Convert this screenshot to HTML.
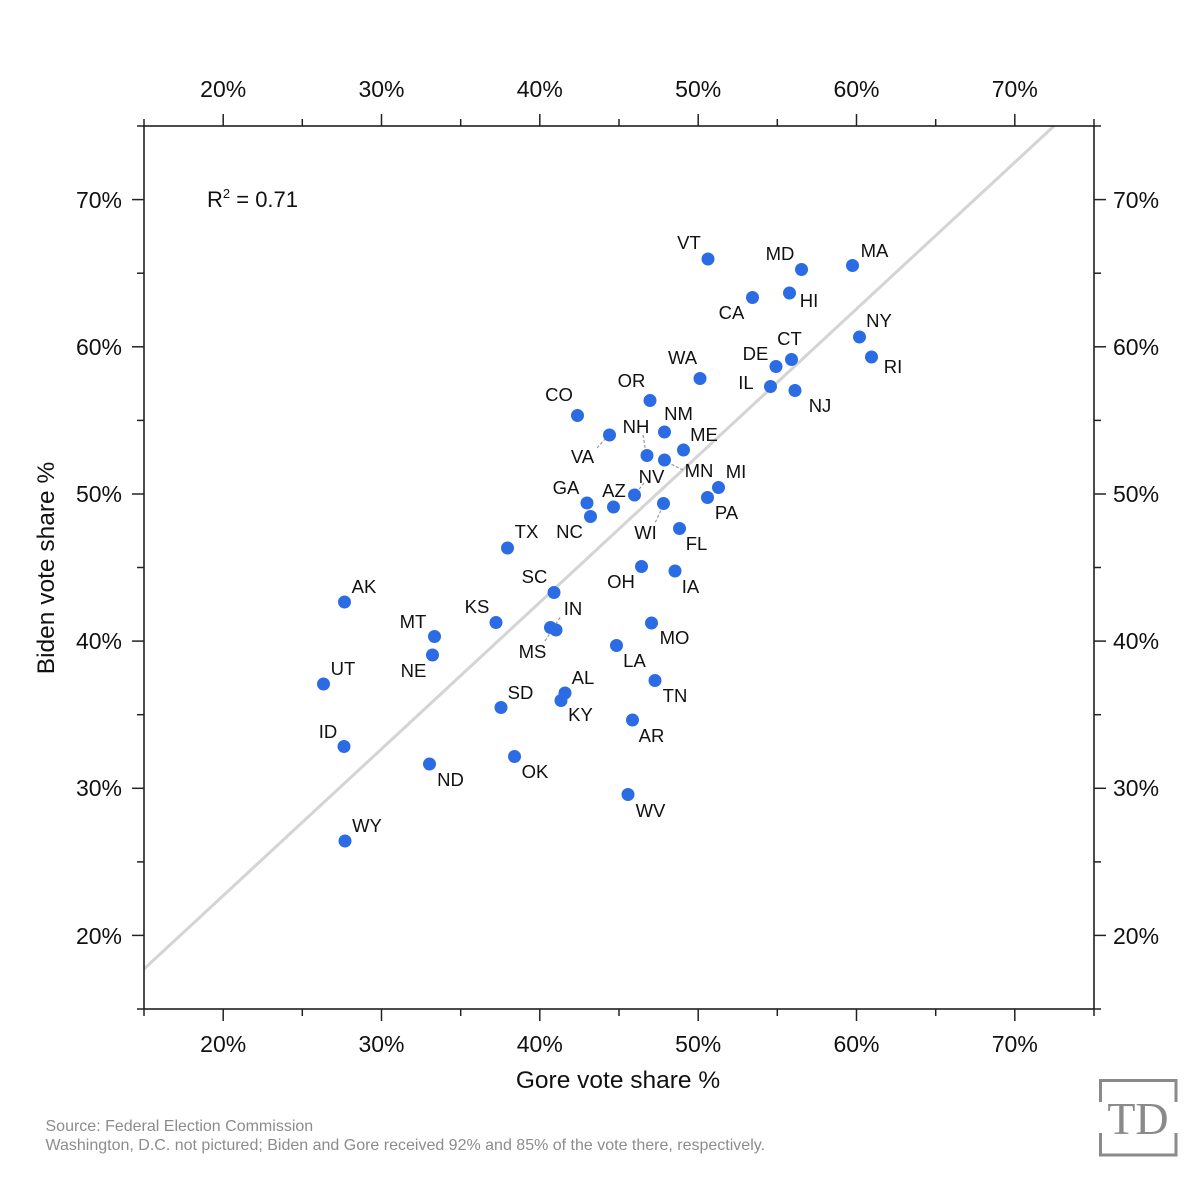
<!DOCTYPE html>
<html>
<head>
<meta charset="utf-8">
<style>
  html, body { margin:0; padding:0; background:#fff; }
  svg { display:block; }
  text { font-family: "Liberation Sans", sans-serif; }
  text.serif { font-family: "Liberation Serif", serif; }
</style>
</head>
<body>
<svg width="1200" height="1200" viewBox="0 0 1200 1200" xmlns="http://www.w3.org/2000/svg">
  <rect x="0" y="0" width="1200" height="1200" fill="#ffffff"/>

  <!-- regression line -->
  <line x1="144" y1="969" x2="1054" y2="126" stroke="#d4d4d4" stroke-width="3"/>

  <!-- frame -->
  <rect x="144" y="126" width="950" height="883" fill="none" stroke="#111" stroke-width="1.5"/>

  <!-- ticks -->
  <g stroke="#222" stroke-width="1.5">
    <line x1="223.2" y1="114" x2="223.2" y2="126"/><line x1="223.2" y1="1009" x2="223.2" y2="1021"/>
    <line x1="381.5" y1="114" x2="381.5" y2="126"/><line x1="381.5" y1="1009" x2="381.5" y2="1021"/>
    <line x1="539.8" y1="114" x2="539.8" y2="126"/><line x1="539.8" y1="1009" x2="539.8" y2="1021"/>
    <line x1="698.2" y1="114" x2="698.2" y2="126"/><line x1="698.2" y1="1009" x2="698.2" y2="1021"/>
    <line x1="856.5" y1="114" x2="856.5" y2="126"/><line x1="856.5" y1="1009" x2="856.5" y2="1021"/>
    <line x1="1014.8" y1="114" x2="1014.8" y2="126"/><line x1="1014.8" y1="1009" x2="1014.8" y2="1021"/>
    <line x1="144" y1="119" x2="144" y2="126"/><line x1="144" y1="1009" x2="144" y2="1016"/>
    <line x1="302.3" y1="119" x2="302.3" y2="126"/><line x1="302.3" y1="1009" x2="302.3" y2="1016"/>
    <line x1="460.7" y1="119" x2="460.7" y2="126"/><line x1="460.7" y1="1009" x2="460.7" y2="1016"/>
    <line x1="619" y1="119" x2="619" y2="126"/><line x1="619" y1="1009" x2="619" y2="1016"/>
    <line x1="777.3" y1="119" x2="777.3" y2="126"/><line x1="777.3" y1="1009" x2="777.3" y2="1016"/>
    <line x1="935.7" y1="119" x2="935.7" y2="126"/><line x1="935.7" y1="1009" x2="935.7" y2="1016"/>
    <line x1="1094" y1="119" x2="1094" y2="126"/><line x1="1094" y1="1009" x2="1094" y2="1016"/>
    <line x1="132" y1="199.6" x2="144" y2="199.6"/><line x1="1094" y1="199.6" x2="1106" y2="199.6"/>
    <line x1="132" y1="346.8" x2="144" y2="346.8"/><line x1="1094" y1="346.8" x2="1106" y2="346.8"/>
    <line x1="132" y1="494" x2="144" y2="494"/><line x1="1094" y1="494" x2="1106" y2="494"/>
    <line x1="132" y1="641.1" x2="144" y2="641.1"/><line x1="1094" y1="641.1" x2="1106" y2="641.1"/>
    <line x1="132" y1="788.3" x2="144" y2="788.3"/><line x1="1094" y1="788.3" x2="1106" y2="788.3"/>
    <line x1="132" y1="935.4" x2="144" y2="935.4"/><line x1="1094" y1="935.4" x2="1106" y2="935.4"/>
    <line x1="137" y1="126" x2="144" y2="126"/><line x1="1094" y1="126" x2="1101" y2="126"/>
    <line x1="137" y1="273.2" x2="144" y2="273.2"/><line x1="1094" y1="273.2" x2="1101" y2="273.2"/>
    <line x1="137" y1="420.4" x2="144" y2="420.4"/><line x1="1094" y1="420.4" x2="1101" y2="420.4"/>
    <line x1="137" y1="567.5" x2="144" y2="567.5"/><line x1="1094" y1="567.5" x2="1101" y2="567.5"/>
    <line x1="137" y1="714.7" x2="144" y2="714.7"/><line x1="1094" y1="714.7" x2="1101" y2="714.7"/>
    <line x1="137" y1="861.9" x2="144" y2="861.9"/><line x1="1094" y1="861.9" x2="1101" y2="861.9"/>
    <line x1="137" y1="1009" x2="144" y2="1009"/><line x1="1094" y1="1009" x2="1101" y2="1009"/>
  </g>

  <!-- tick labels -->
  <g font-size="23" fill="#111" text-anchor="middle">
    <text x="223.2" y="97">20%</text><text x="381.5" y="97">30%</text><text x="539.8" y="97">40%</text>
    <text x="698.2" y="97">50%</text><text x="856.5" y="97">60%</text><text x="1014.8" y="97">70%</text>
    <text x="223.2" y="1052">20%</text><text x="381.5" y="1052">30%</text><text x="539.8" y="1052">40%</text>
    <text x="698.2" y="1052">50%</text><text x="856.5" y="1052">60%</text><text x="1014.8" y="1052">70%</text>
  </g>
  <g font-size="23" fill="#111" text-anchor="end">
    <text x="122" y="208">70%</text><text x="122" y="355">60%</text><text x="122" y="502">50%</text>
    <text x="122" y="649">40%</text><text x="122" y="796">30%</text><text x="122" y="944">20%</text>
  </g>
  <g font-size="23" fill="#111" text-anchor="start">
    <text x="1113" y="208">70%</text><text x="1113" y="355">60%</text><text x="1113" y="502">50%</text>
    <text x="1113" y="649">40%</text><text x="1113" y="796">30%</text><text x="1113" y="944">20%</text>
  </g>

  <!-- axis titles -->
  <text x="618" y="1088" font-size="24.5" fill="#111" text-anchor="middle">Gore vote share %</text>
  <text transform="translate(54,568) rotate(-90)" font-size="24.5" fill="#111" text-anchor="middle">Biden vote share %</text>

  <!-- R2 -->
  <text x="207" y="207" font-size="22" fill="#111">R<tspan font-size="13" dy="-9">2</tspan><tspan dy="9"> = 0.71</tspan></text>

  <!-- leader lines -->
  <g stroke="#9a9a9a" stroke-width="1.2" stroke-dasharray="3,2" fill="none">
    <line x1="597" y1="448" x2="607" y2="437"/>
    <line x1="643" y1="435" x2="646" y2="453"/>
    <line x1="667" y1="462" x2="683" y2="470"/>
    <line x1="636" y1="493" x2="644" y2="483"/>
    <line x1="663" y1="506" x2="655" y2="523"/>
    <line x1="545" y1="641" x2="561" y2="616"/>
  </g>

  <!-- dots -->
  <g fill="#2b6be3">
    <circle cx="708" cy="259" r="6.5"/>
    <circle cx="801.5" cy="269.5" r="6.5"/>
    <circle cx="852.5" cy="265.5" r="6.5"/>
    <circle cx="752.5" cy="297.5" r="6.5"/>
    <circle cx="789.5" cy="293" r="6.5"/>
    <circle cx="859.5" cy="337" r="6.5"/>
    <circle cx="791.5" cy="359.5" r="6.5"/>
    <circle cx="776" cy="366.5" r="6.5"/>
    <circle cx="871.5" cy="357" r="6.5"/>
    <circle cx="700" cy="378.5" r="6.5"/>
    <circle cx="770.5" cy="386.5" r="6.5"/>
    <circle cx="795" cy="390.5" r="6.5"/>
    <circle cx="650" cy="400.5" r="6.5"/>
    <circle cx="577.5" cy="415.5" r="6.5"/>
    <circle cx="609.5" cy="435" r="6.5"/>
    <circle cx="664.5" cy="432" r="6.5"/>
    <circle cx="683.5" cy="450" r="6.5"/>
    <circle cx="647" cy="455.5" r="6.5"/>
    <circle cx="664.5" cy="460" r="6.5"/>
    <circle cx="718.5" cy="487.5" r="6.5"/>
    <circle cx="707.5" cy="497.5" r="6.5"/>
    <circle cx="634.5" cy="495" r="6.5"/>
    <circle cx="587" cy="503" r="6.5"/>
    <circle cx="613.5" cy="507" r="6.5"/>
    <circle cx="663.5" cy="503.5" r="6.5"/>
    <circle cx="590.5" cy="516.5" r="6.5"/>
    <circle cx="679.5" cy="528.5" r="6.5"/>
    <circle cx="507.5" cy="548" r="6.5"/>
    <circle cx="554" cy="592.5" r="6.5"/>
    <circle cx="641.5" cy="566.5" r="6.5"/>
    <circle cx="675" cy="571" r="6.5"/>
    <circle cx="496" cy="622.5" r="6.5"/>
    <circle cx="550.5" cy="627.5" r="6.5"/>
    <circle cx="556" cy="630" r="6.5"/>
    <circle cx="651.5" cy="623" r="6.5"/>
    <circle cx="616.5" cy="645.5" r="6.5"/>
    <circle cx="565" cy="693" r="6.5"/>
    <circle cx="561" cy="700.5" r="6.5"/>
    <circle cx="501" cy="707.5" r="6.5"/>
    <circle cx="655" cy="680.5" r="6.5"/>
    <circle cx="632.5" cy="720" r="6.5"/>
    <circle cx="344.5" cy="602" r="6.5"/>
    <circle cx="434.5" cy="636.5" r="6.5"/>
    <circle cx="432.5" cy="655" r="6.5"/>
    <circle cx="323.5" cy="684" r="6.5"/>
    <circle cx="344" cy="746.5" r="6.5"/>
    <circle cx="429.5" cy="764" r="6.5"/>
    <circle cx="514.5" cy="756.5" r="6.5"/>
    <circle cx="628" cy="794.5" r="6.5"/>
    <circle cx="345" cy="841" r="6.5"/>
  </g>

  <!-- state labels -->
  <g font-size="18.5" fill="#111" text-anchor="middle">
    <text x="689" y="249">VT</text>
    <text x="780" y="260">MD</text>
    <text x="874.5" y="257">MA</text>
    <text x="731.5" y="319">CA</text>
    <text x="809" y="307">HI</text>
    <text x="879" y="327">NY</text>
    <text x="789.5" y="345">CT</text>
    <text x="755.5" y="360">DE</text>
    <text x="893" y="373">RI</text>
    <text x="682.5" y="364">WA</text>
    <text x="746" y="389">IL</text>
    <text x="820" y="412">NJ</text>
    <text x="631.5" y="387">OR</text>
    <text x="559" y="401">CO</text>
    <text x="678.5" y="420">NM</text>
    <text x="636" y="433">NH</text>
    <text x="704" y="441">ME</text>
    <text x="582.5" y="463">VA</text>
    <text x="699" y="477">MN</text>
    <text x="736" y="478">MI</text>
    <text x="651.5" y="483">NV</text>
    <text x="566" y="494">GA</text>
    <text x="614" y="497">AZ</text>
    <text x="726.5" y="519">PA</text>
    <text x="569.5" y="538">NC</text>
    <text x="645.5" y="539">WI</text>
    <text x="696.5" y="550">FL</text>
    <text x="526.5" y="538">TX</text>
    <text x="534.5" y="583">SC</text>
    <text x="621" y="588">OH</text>
    <text x="690.5" y="593">IA</text>
    <text x="364" y="593">AK</text>
    <text x="477" y="613">KS</text>
    <text x="573" y="615">IN</text>
    <text x="413" y="628">MT</text>
    <text x="674.5" y="644">MO</text>
    <text x="532.5" y="658">MS</text>
    <text x="634.5" y="667">LA</text>
    <text x="413.5" y="677">NE</text>
    <text x="343" y="675">UT</text>
    <text x="583" y="684">AL</text>
    <text x="520.5" y="699">SD</text>
    <text x="675" y="702">TN</text>
    <text x="580.5" y="721">KY</text>
    <text x="328" y="738">ID</text>
    <text x="651.5" y="742">AR</text>
    <text x="535" y="778">OK</text>
    <text x="450.5" y="786">ND</text>
    <text x="650.5" y="817">WV</text>
    <text x="367" y="832">WY</text>
  </g>

  <!-- footer -->
  <g font-size="16" fill="#8c8c8c">
    <text x="45.5" y="1131">Source: Federal Election Commission</text>
    <text x="45.5" y="1150">Washington, D.C. not pictured; Biden and Gore received 92% and 85% of the vote there, respectively.</text>
  </g>

  <!-- TD logo -->
  <g stroke="#8a8a8a" stroke-width="3" fill="none">
    <path d="M1100.5,1102 V1080.5 H1176 V1102"/>
    <path d="M1100.5,1133 V1155 H1176 V1133"/>
  </g>
  <text class="serif" x="1138" y="1134" style="font-family:'Liberation Serif', serif;" font-size="46" fill="#8a8a8a" text-anchor="middle">TD</text>
</svg>
</body>
</html>
